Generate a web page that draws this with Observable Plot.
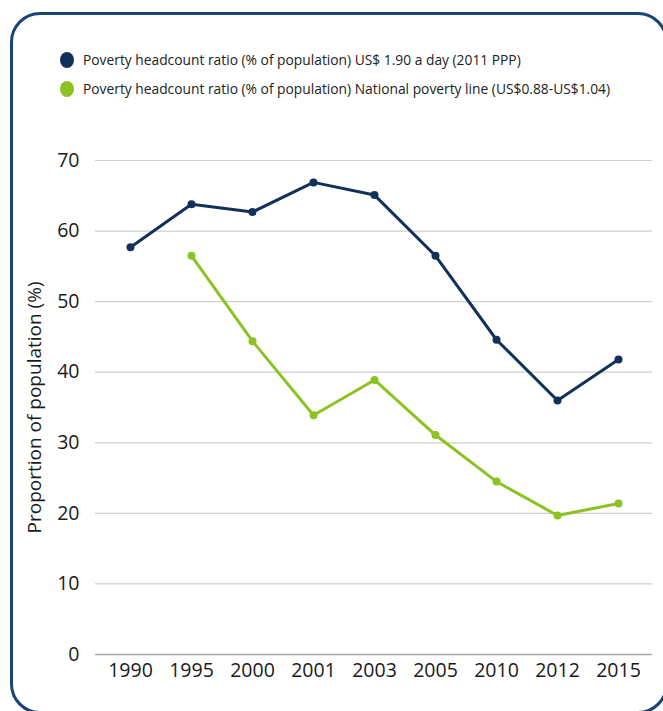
<!DOCTYPE html>
<html>
<head>
<meta charset="utf-8">
<script src="https://cdn.jsdelivr.net/npm/d3@7"></script>
<script src="https://cdn.jsdelivr.net/npm/@observablehq/plot@0.6"></script>
<style>
  html, body { margin: 0; padding: 0; background: #fff; }
  #wrap { position: relative; width: 663px; height: 711px; overflow: hidden; font-family: "Open Sans", sans-serif; }
  #frame { position: absolute; left: 10px; top: 12px; width: 658px; height: 702px; border: 3.5px solid #1a4474; border-radius: 30px; box-sizing: border-box; }
  #legend { position: absolute; left: 60px; top: 45px; font-size: 13.8px; color: #222; }
  .item { display: flex; align-items: center; height: 29px; }
  .sw { width: 14px; height: 16px; border-radius: 50%; margin-right: 9px; }
  #chart { position: absolute; left: 0; top: 0; }
</style>
</head>
<body>
<div id="wrap">
  <div id="frame"></div>
  <div id="legend"></div>
  <div id="chart"></div>
</div>
<script>
const years = ["1990","1995","2000","2001","2003","2005","2010","2012","2015"];
const usd190 = [57.7, 63.8, 62.7, 66.9, 65.1, 56.5, 44.6, 36.0, 41.8];
const national = [null, 56.5, 44.4, 33.9, 38.9, 31.1, 24.5, 19.7, 21.4];
const seriesNames = [
  "Poverty headcount ratio (% of population) US$ 1.90 a day (2011 PPP)",
  "Poverty headcount ratio (% of population) National poverty line (US$0.88-US$1.04)"
];
const seriesColors = ["#12315a", "#8dc223"];
const yTicks = [0, 10, 20, 30, 40, 50, 60, 70];
const yLabel = "Proportion of population (%)";

const data = [];
[usd190, national].forEach((vals, s) => {
  vals.forEach((v, i) => { if (v != null) data.push({year: years[i], value: v, series: seriesNames[s]}); });
});

const legend = document.getElementById("legend");
seriesNames.forEach((n, i) => {
  const d = document.createElement("div");
  d.className = "item";
  d.innerHTML = `<span class="sw" style="background:${seriesColors[i]}"></span><span>${n}</span>`;
  legend.appendChild(d);
});

const chart = Plot.plot({
  width: 663,
  height: 711,
  marginLeft: 95,
  marginRight: 11,
  marginTop: 160,
  marginBottom: 57,
  style: {fontFamily: "Open Sans", fontSize: "19px", color: "#1a1a1a", background: "transparent"},
  x: {type: "point", domain: years, padding: 0.5},
  y: {domain: [0, 70]},
  color: {domain: seriesNames, range: seriesColors},
  marks: [
    Plot.gridY(yTicks, {stroke: "#cfcfcf", strokeOpacity: 1, strokeWidth: 1.2}),
    Plot.ruleY([0], {stroke: "#a6a6a6", strokeWidth: 1.5}),
    Plot.axisY(yTicks, {tickSize: 0, tickPadding: 16, fontSize: 19.5, label: null}),
    Plot.axisY({ticks: [], tickSize: 0, fontSize: 19, label: yLabel, labelAnchor: "center", labelOffset: 68, labelArrow: "none"}),
    Plot.axisX({tickSize: 0, tickPadding: 9, fontSize: 19.5, label: null}),
    Plot.lineY(data, {x: "year", y: "value", z: "series", stroke: "series", strokeWidth: 3}),
    Plot.dot(data, {x: "year", y: "value", fill: "series", r: 4})
  ]
});
document.getElementById("chart").appendChild(chart);
</script>
</body>
</html>
